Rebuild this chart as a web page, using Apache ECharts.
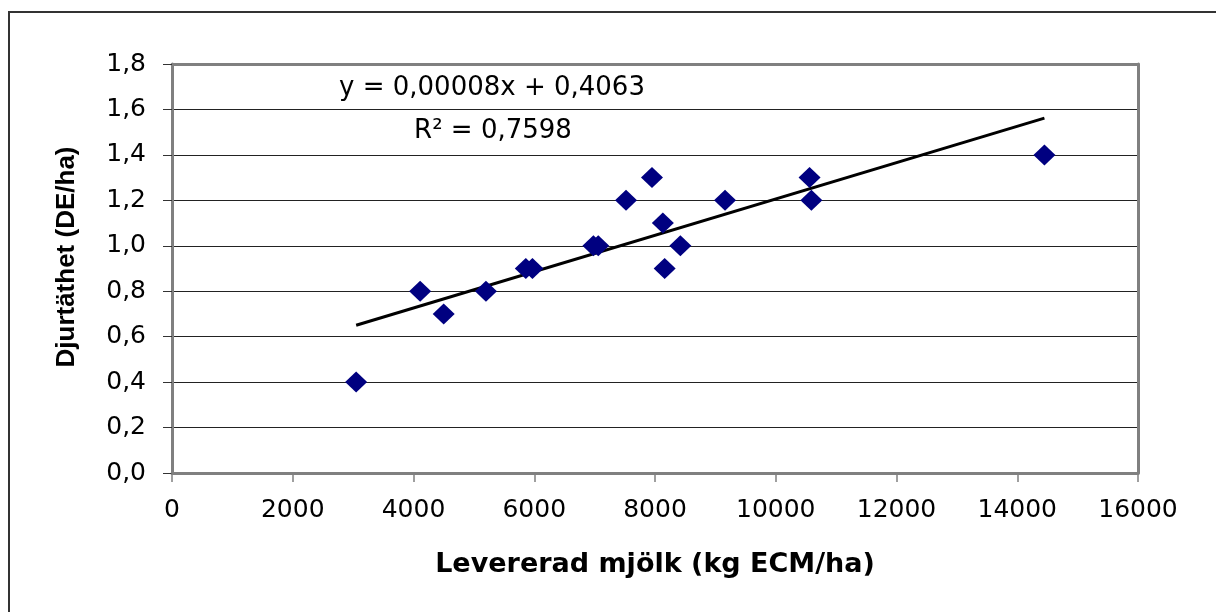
<!DOCTYPE html>
<html>
<head>
<meta charset="utf-8">
<script src="https://cdn.jsdelivr.net/npm/echarts@6/dist/echarts.min.js"></script>
<style>
html,body{margin:0;padding:0;background:#fff;}
#chart{width:1216px;height:612px;}
</style>
</head>
<body>
<div id="chart"></div>
<script>
// Data
const milkX = [3050, 4110, 4500, 5200, 5860, 5970, 6980, 7060, 7520, 7950, 8130, 8160, 8420, 9160, 10560, 10590, 14450];
const densityY = [0.4, 0.8, 0.7, 0.8, 0.9, 0.9, 1.0, 1.0, 1.2, 1.3, 1.1, 0.9, 1.0, 1.2, 1.3, 1.2, 1.4];
const trendX = [3050, 14450];
const trendY = [0.65, 1.562];
const xTickLabels = ['0', '2000', '4000', '6000', '8000', '10000', '12000', '14000', '16000'];
const yTickLabels = ['0,0', '0,2', '0,4', '0,6', '0,8', '1,0', '1,2', '1,4', '1,6', '1,8'];
const equationText = 'y = 0,00008x + 0,4063';
const r2Text = 'R² = 0,7598';
const xTitle = 'Levererad mjölk (kg ECM/ha)';
const yTitle = 'Djurtäthet (DE/ha)';

const chart = echarts.init(document.getElementById('chart'), null, {renderer: 'canvas'});
const labelFont = {fontFamily: 'DejaVu Sans', fontSize: 25, color: '#000'};

const option = {
  animation: false,
  backgroundColor: '#fff',
  grid: {left: 172, right: 78, top: 64, bottom: 139, show: false},
  xAxis: [{
    type: 'value', min: 0, max: 16000, interval: 2000,
    axisLine: {show: true, onZero: false, lineStyle: {color: '#808080', width: 3}},
    axisTick: {show: true, length: 9, lineStyle: {color: '#808080', width: 1.5}},
    axisLabel: Object.assign({margin: 25, formatter: (v) => xTickLabels[Math.round(v / 2000)]}, labelFont),
    splitLine: {show: false}
  }, {
    type: 'value', position: 'top', min: 0, max: 16000, interval: 2000,
    axisLine: {show: true, onZero: false, lineStyle: {color: '#808080', width: 3}},
    axisTick: {show: false}, axisLabel: {show: false}, splitLine: {show: false}
  }],
  yAxis: [{
    type: 'value', min: 0, max: 1.8, interval: 0.2,
    axisLine: {show: true, onZero: false, lineStyle: {color: '#808080', width: 3}},
    axisTick: {show: true, length: 9, lineStyle: {color: '#333', width: 1}},
    axisLabel: Object.assign({margin: 26, formatter: (v) => yTickLabels[Math.round(v / 0.2)]}, labelFont),
    splitLine: {show: true, lineStyle: {color: '#222', width: 1}}
  }, {
    type: 'value', position: 'right', min: 0, max: 1.8, interval: 0.2,
    axisLine: {show: true, onZero: false, lineStyle: {color: '#808080', width: 3}},
    axisTick: {show: false}, axisLabel: {show: false}, splitLine: {show: false}
  }],
  series: [{
    type: 'line',
    data: trendX.map((x, i) => [x, trendY[i]]),
    showSymbol: false, symbol: 'none',
    lineStyle: {color: '#000', width: 3},
    z: 3
  }, {
    type: 'scatter',
    data: milkX.map((x, i) => [x, densityY[i]]),
    symbol: 'diamond', symbolSize: [22, 21],
    itemStyle: {color: '#000080', opacity: 1},
    z: 4
  }],
  graphic: [{
    type: 'rect', x: 9, y: 12, z: -10,
    shape: {x: 0, y: 0, width: 1230, height: 630},
    style: {fill: 'none', stroke: '#333', lineWidth: 2}
  }, {
    type: 'text', x: 492, y: 88, z: 10,
    style: {text: equationText, font: '26px "DejaVu Sans"', fill: '#000', textAlign: 'center', textVerticalAlign: 'middle'}
  }, {
    type: 'text', x: 493, y: 131, z: 10,
    style: {text: r2Text, font: '26px "DejaVu Sans"', fill: '#000', textAlign: 'center', textVerticalAlign: 'middle'}
  }, {
    type: 'text', x: 655, y: 565, z: 10,
    style: {text: xTitle, font: 'bold 27px "DejaVu Sans"', fill: '#000', textAlign: 'center', textVerticalAlign: 'middle'}
  }, {
    type: 'text', x: 67, y: 257, rotation: Math.PI / 2, z: 10,
    style: {text: yTitle, font: 'bold 26px "Liberation Sans"', fill: '#000', textAlign: 'center', textVerticalAlign: 'middle'}
  }]
};
chart.setOption(option);
</script>
</body>
</html>
